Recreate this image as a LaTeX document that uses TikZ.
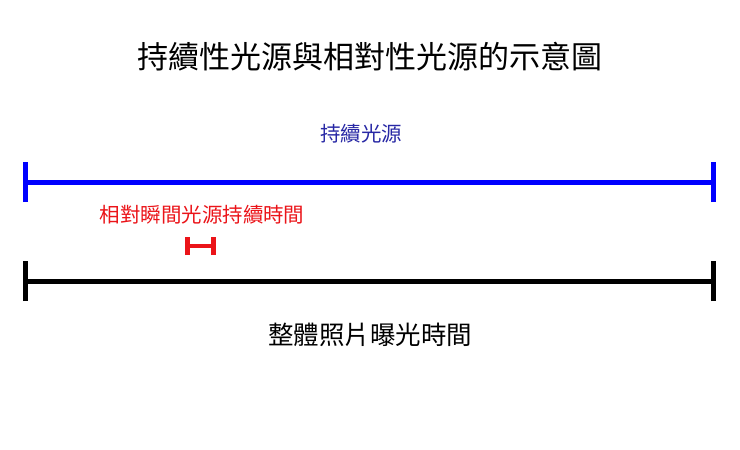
\documentclass[tikz,border=0pt]{standalone}
\usepackage{fontspec}
\newfontfamily\cjk{Noto Sans CJK TC}
\usetikzlibrary{positioning}
\definecolor{cBlue}{RGB}{0,0,255}
\definecolor{cLabel}{RGB}{40,40,165}
\definecolor{cRed}{RGB}{235,20,25}

\tikzset{
  bar/.style={line width=5pt},
  label text/.style={font=\cjk, inner sep=0pt},
}

\begin{document}
\begin{tikzpicture}[x=1pt, y=-1pt]
        \useasboundingbox[fill=white] (0,0) rectangle (740,450);
        % title
        \node[label text, font=\cjk\fontsize{31}{31}\selectfont] (title) at (370,57) {持續性光源與相對性光源的示意圖};
        % continuous light source
        \node[label text, text=cLabel, font=\cjk\fontsize{20.5}{20.5}\selectfont] (contlabel) at (361,134) {持續光源};
        \coordinate (contL) at (25,182);
        \coordinate (contR) at (713,182);
        \draw[bar, cBlue] (contL) -- (contR);
        \draw[bar, cBlue] ([yshift=-20pt]contL) -- ([yshift=20pt]contL);
        \draw[bar, cBlue] ([yshift=-20pt]contR) -- ([yshift=20pt]contR);
        % relative instant light source
        \node[label text, text=cRed, font=\cjk\fontsize{20.5}{20.5}\selectfont] (instlabel) at (202,215) {相對瞬間光源持續時間};
        \coordinate (instL) at (187.5,246);
        \coordinate (instR) at (213,246);
        \draw[cRed, line width=4pt] (instL) -- (instR);
        \draw[bar, cRed] ([yshift=-9pt]instL) -- ([yshift=9pt]instL);
        \draw[bar, cRed] ([yshift=-9pt]instR) -- ([yshift=9pt]instR);
        % whole exposure
        \coordinate (expL) at (25,281);
        \coordinate (expR) at (713,281);
        \draw[bar] (expL) -- (expR);
        \draw[bar] ([yshift=-20pt]expL) -- ([yshift=20pt]expL);
        \draw[bar] ([yshift=-20pt]expR) -- ([yshift=20pt]expR);
        \node[label text, font=\cjk\fontsize{25.5}{25.5}\selectfont] (explabel) at (370,335) {整體照片曝光時間};
\end{tikzpicture}
\end{document}
